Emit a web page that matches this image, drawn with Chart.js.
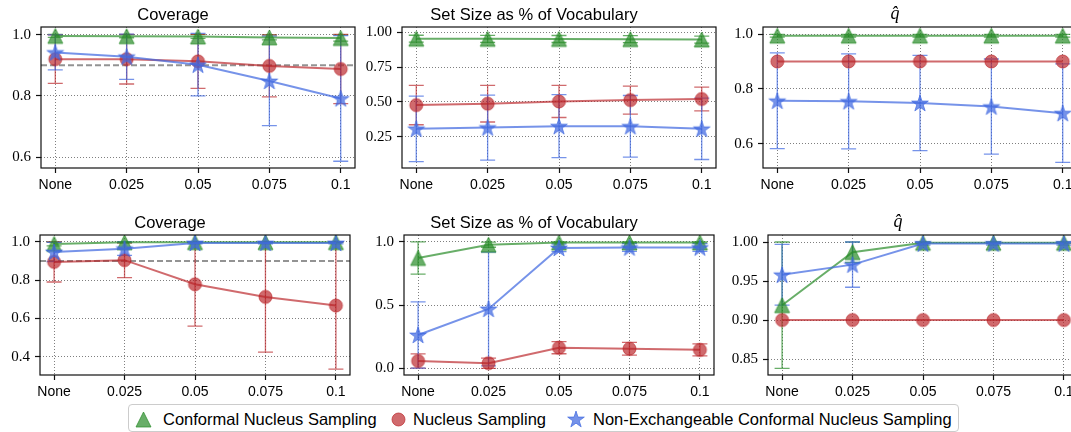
<!DOCTYPE html>
<html><head><meta charset="utf-8">
<script src="https://cdn.jsdelivr.net/npm/chart.js@4.4.1/dist/chart.umd.min.js"></script>
<style>
html,body{margin:0;padding:0;background:#fff;width:1071px;height:432px;overflow:hidden;position:relative;}
canvas.panel{position:absolute;}
#legend{position:absolute;left:128px;top:404px;width:829px;height:26px;border:1px solid #cccccc;border-radius:4px;background:#fff;font-family:"Liberation Sans",Arial,sans-serif;font-size:16.5px;color:#000;}
#legend .it{position:absolute;top:0;height:28px;line-height:28px;white-space:nowrap;}
#legend img{position:absolute;}
</style></head><body>
<div id="legend"></div>
<script>
// ---------- data ----------
const CATEGORIES = ['None', '0.025', '0.05', '0.075', '0.1'];
const SERIES_NAMES = ['Conformal Nucleus Sampling', 'Nucleus Sampling', 'Non-Exchangeable Conformal Nucleus Sampling'];
const PANEL_TITLES = ['Coverage', 'Set Size as % of Vocabulary', 'q\u0302'];
const TARGET_COVERAGE = 0.9;

// Row 1
const R1_COV_CONF = [0.996, 0.995, 0.994, 0.991, 0.989];
const R1_COV_CONF_ERR = [0.005, 0.005, 0.006, 0.008, 0.010];
const R1_COV_NUC = [0.920, 0.920, 0.913, 0.898, 0.888];
const R1_COV_NUC_ERR = [0.079, 0.081, 0.088, 0.101, 0.113];
const R1_COV_NEX = [0.942, 0.928, 0.902, 0.849, 0.792];
const R1_COV_NEX_ERR = [0.057, 0.074, 0.102, 0.146, 0.205];

const R1_SIZE_CONF = [0.953, 0.952, 0.951, 0.950, 0.947];
const R1_SIZE_CONF_ERR = [0.025, 0.025, 0.025, 0.025, 0.025];
const R1_SIZE_NUC = [0.477, 0.487, 0.503, 0.513, 0.521];
const R1_SIZE_NUC_ERR = [0.141, 0.131, 0.115, 0.100, 0.085];
const R1_SIZE_NEX = [0.307, 0.316, 0.326, 0.325, 0.307];
const R1_SIZE_NEX_ERR = [0.235, 0.233, 0.226, 0.221, 0.220];

const R1_Q_CONF = [0.994, 0.994, 0.994, 0.994, 0.994];
const R1_Q_CONF_ERR = [0.005, 0.005, 0.005, 0.005, 0.005];
const R1_Q_NUC = [0.900, 0.900, 0.900, 0.900, 0.900];
const R1_Q_NUC_ERR = [0, 0, 0, 0, 0];
const R1_Q_NEX = [0.757, 0.755, 0.749, 0.736, 0.712];
const R1_Q_NEX_ERR = [0.174, 0.173, 0.173, 0.173, 0.179];

// Row 2
const R2_COV_CONF = [0.990, 0.998, 0.999, 0.999, 0.999];
const R2_COV_CONF_ERR = [0.010, 0.003, 0.002, 0.002, 0.002];
const R2_COV_NUC = [0.896, 0.905, 0.779, 0.713, 0.668];
const R2_COV_NUC_ERR = [0.105, 0.091, 0.219, 0.288, 0.332];
const R2_COV_NEX = [0.948, 0.965, 0.995, 0.995, 0.995];
const R2_COV_NEX_ERR = [0.050, 0.035, 0.005, 0.005, 0.005];

const R2_SIZE_CONF = [0.873, 0.978, 0.995, 0.996, 0.996];
const R2_SIZE_CONF_ERR = [0.128, 0.020, 0.005, 0.004, 0.004];
const R2_SIZE_NUC = [0.058, 0.040, 0.163, 0.155, 0.146];
const R2_SIZE_NUC_ERR = [0.056, 0.040, 0.048, 0.050, 0.047];
const R2_SIZE_NEX = [0.264, 0.470, 0.953, 0.956, 0.956];
const R2_SIZE_NEX_ERR = [0.262, 0.450, 0.030, 0.030, 0.030];

const R2_Q_CONF = [0.919, 0.987, 0.999, 0.999, 0.999];
const R2_Q_CONF_ERR = [0.081, 0.013, 0.001, 0.001, 0.001];
const R2_Q_NUC = [0.900, 0.900, 0.900, 0.900, 0.900];
const R2_Q_NUC_ERR = [0, 0, 0, 0, 0];
const R2_Q_NEX = [0.958, 0.971, 0.998, 0.998, 0.998];
const R2_Q_NEX_ERR = [0.039, 0.029, 0.002, 0.002, 0.002];

// tick labels
const Y_TICKS_R1_COV = ['0.6', '0.8', '1.0'];
const Y_TICKS_R1_SIZE = ['0.25', '0.50', '0.75', '1.00'];
const Y_TICKS_R1_Q = ['0.6', '0.8', '1.0'];
const Y_TICKS_R2_COV = ['0.4', '0.6', '0.8', '1.0'];
const Y_TICKS_R2_SIZE = ['0.0', '0.5', '1.0'];
const Y_TICKS_R2_Q = ['0.85', '0.90', '0.95', '1.00'];

// ---------- style ----------
const COLORS = ['rgba(40,140,40,0.70)', 'rgba(185,35,40,0.68)', 'rgba(65,105,225,0.72)'];
const MARKERS = ['triangle', 'circle', 'star'];
const MARKER_SIZES = [15, 13, 17.5];
const SANS = '"Liberation Sans", Arial, sans-serif';
const SERIF = '"Liberation Serif", "Times New Roman", serif';
const PAD_L = 50, PAD_T = 27, PAD_B = 28, PAD_R = 20;

function makeMarker(kind, color, size) {
  const c = document.createElement('canvas');
  const s = Math.ceil(size + 4);
  c.width = s; c.height = s;
  const g = c.getContext('2d');
  const cx = s / 2, cy = s / 2, r = size / 2;
  g.beginPath();
  if (kind === 'triangle') {
    g.moveTo(cx, cy - r); g.lineTo(cx + r, cy + r); g.lineTo(cx - r, cy + r); g.closePath();
  } else if (kind === 'circle') {
    g.arc(cx, cy, r, 0, Math.PI * 2);
  } else {
    for (let k = 0; k < 10; k++) {
      const rr = k % 2 === 0 ? r : r * 0.381966;
      const a = -Math.PI / 2 + k * Math.PI / 5;
      const px = cx + rr * Math.cos(a), py = cy + rr * Math.sin(a) + r * 0.09;
      if (k === 0) g.moveTo(px, py); else g.lineTo(px, py);
    }
    g.closePath();
  }
  g.fillStyle = color; g.fill();
  g.lineWidth = 1; g.strokeStyle = color; g.stroke();
  return c;
}
const MARKER_IMGS = MARKERS.map((m, i) => makeMarker(m, COLORS[i], MARKER_SIZES[i]));

// ---------- plugins ----------
const errorBarPlugin = {
  id: 'errorBars',
  beforeDatasetsDraw(chart) {
    const ctx = chart.ctx, ys = chart.scales.y, a = chart.chartArea;
    ctx.save();
    ctx.beginPath(); ctx.rect(a.left, a.top, a.right - a.left, a.bottom - a.top); ctx.clip();
    const tgt = chart.options.plugins.errorBars.target;
    if (tgt != null) {
      const py = ys.getPixelForValue(tgt);
      ctx.strokeStyle = 'rgba(128,128,128,0.85)'; ctx.lineWidth = 2; ctx.setLineDash([6, 3]);
      ctx.beginPath(); ctx.moveTo(a.left, py); ctx.lineTo(a.right, py); ctx.stroke();
      ctx.setLineDash([]);
    }
    chart.data.datasets.forEach((ds, di) => {
      const meta = chart.getDatasetMeta(di);
      ctx.strokeStyle = ds.borderColor; ctx.lineWidth = 1.3;
      ds.data.forEach((p, j) => {
        const e = ds.errors[j];
        if (!e) return;
        const px = meta.data[j].x;
        const y1 = ys.getPixelForValue(p.y + e), y2 = ys.getPixelForValue(p.y - e);
        ctx.beginPath();
        ctx.moveTo(px, y1); ctx.lineTo(px, y2);
        ctx.moveTo(px - 7.5, y1); ctx.lineTo(px + 7.5, y1);
        ctx.moveTo(px - 7.5, y2); ctx.lineTo(px + 7.5, y2);
        ctx.stroke();
      });
    });
    ctx.restore();
  },
  afterDraw(chart) {
    const ctx = chart.ctx, a = chart.chartArea;
    ctx.save();
    ctx.strokeStyle = '#111'; ctx.lineWidth = 1.2;
    ctx.strokeRect(a.left, a.top, a.right - a.left, a.bottom - a.top);
    ctx.restore();
  }
};

// ---------- panels ----------
const PANELS = [
  {left: 41, top: 27, w: 314, h: 141, ymin: 0.565, ymax: 1.025, yt: Y_TICKS_R1_COV, title: 0, target: TARGET_COVERAGE,
   vals: [R1_COV_CONF, R1_COV_NUC, R1_COV_NEX], errs: [R1_COV_CONF_ERR, R1_COV_NUC_ERR, R1_COV_NEX_ERR]},
  {left: 402, top: 27, w: 314, h: 141, ymin: 0.026, ymax: 1.037, yt: Y_TICKS_R1_SIZE, title: 1, target: null,
   vals: [R1_SIZE_CONF, R1_SIZE_NUC, R1_SIZE_NEX], errs: [R1_SIZE_CONF_ERR, R1_SIZE_NUC_ERR, R1_SIZE_NEX_ERR]},
  {left: 763, top: 27, w: 314, h: 141, ymin: 0.5125, ymax: 1.0255, yt: Y_TICKS_R1_Q, title: 2, target: null,
   vals: [R1_Q_CONF, R1_Q_NUC, R1_Q_NEX], errs: [R1_Q_CONF_ERR, R1_Q_NUC_ERR, R1_Q_NEX_ERR]},
  {left: 40, top: 235, w: 310, h: 140, ymin: 0.305, ymax: 1.0365, yt: Y_TICKS_R2_COV, title: 0, target: TARGET_COVERAGE,
   vals: [R2_COV_CONF, R2_COV_NUC, R2_COV_NEX], errs: [R2_COV_CONF_ERR, R2_COV_NUC_ERR, R2_COV_NEX_ERR]},
  {left: 404, top: 235, w: 310, h: 140, ymin: -0.053, ymax: 1.055, yt: Y_TICKS_R2_SIZE, title: 1, target: null,
   vals: [R2_SIZE_CONF, R2_SIZE_NUC, R2_SIZE_NEX], errs: [R2_SIZE_CONF_ERR, R2_SIZE_NUC_ERR, R2_SIZE_NEX_ERR]},
  {left: 768, top: 235, w: 310, h: 140, ymin: 0.8295, ymax: 1.009, yt: Y_TICKS_R2_Q, title: 2, target: null,
   vals: [R2_Q_CONF, R2_Q_NUC, R2_Q_NEX], errs: [R2_Q_CONF_ERR, R2_Q_NUC_ERR, R2_Q_NEX_ERR]},
];

PANELS.forEach(p => {
  const cv = document.createElement('canvas');
  cv.className = 'panel';
  const W = p.w + PAD_L + PAD_R, H = p.h + PAD_T + PAD_B;
  cv.width = W; cv.height = H;
  cv.style.left = (p.left - PAD_L) + 'px';
  cv.style.top = (p.top - PAD_T) + 'px';
  cv.style.width = W + 'px'; cv.style.height = H + 'px';
  document.body.appendChild(cv);

  const datasets = SERIES_NAMES.map((name, si) => ({
    label: name,
    data: CATEGORIES.map((c, i) => ({x: i, y: p.vals[si][i]})),
    errors: p.errs[si],
    borderColor: COLORS[si],
    backgroundColor: COLORS[si],
    borderWidth: 2,
    pointStyle: MARKER_IMGS[si],
    pointRadius: 7, pointHoverRadius: 7,
    tension: 0,
    order: 3 - si
  }));
  const isQ = p.title === 2;
  new Chart(cv, {
    type: 'line',
    data: {datasets},
    plugins: [errorBarPlugin],
    options: {
      responsive: false, animation: false, devicePixelRatio: 1,
      events: [],
      layout: {padding: {left: 0, right: PAD_R, top: 0, bottom: 0}},
      plugins: {
        legend: {display: false}, tooltip: {enabled: false},
        errorBars: {target: p.target},
        title: {display: true, text: PANEL_TITLES[p.title], color: '#000',
          font: isQ ? {family: SERIF, size: 18, style: 'italic', weight: 'normal', lineHeight: 1.2}
                    : {family: SANS, size: 16.5, weight: 'normal', lineHeight: 1.2},
          padding: isQ ? {top: 3.3, bottom: 2.1} : {top: 5.3, bottom: 1.9}}
      },
      scales: {
        x: {
          type: 'linear', min: -0.2, max: 4.2,
          afterBuildTicks: s => { s.ticks = CATEGORIES.map((c, i) => ({value: i})); },
          afterFit: s => { s.height = PAD_B; },
          ticks: {callback: (v, i) => CATEGORIES[i], font: {family: SANS, size: 14}, color: '#000', padding: 4, maxRotation: 0, autoSkip: false},
          grid: {color: 'rgba(0,0,0,0.5)', lineWidth: 1, tickLength: 5, tickColor: '#111', tickWidth: 1.2, tickBorderDash: []},
          border: {display: false, dash: [1, 2]}
        },
        y: {
          type: 'linear', min: p.ymin, max: p.ymax,
          afterBuildTicks: s => { s.ticks = p.yt.map(t => ({value: parseFloat(t)})); },
          afterFit: s => { s.width = PAD_L; },
          ticks: {callback: (v, i) => p.yt[i], font: {family: SERIF, size: 15}, color: '#000', padding: 5, autoSkip: false},
          grid: {color: 'rgba(0,0,0,0.5)', lineWidth: 1, tickLength: 5, tickColor: '#111', tickWidth: 1.2, tickBorderDash: []},
          border: {display: false, dash: [1, 2]}
        }
      }
    }
  });
});

// ---------- legend ----------
const LEGEND_MARKER_X = [14, 269, 447];
const LEGEND_TEXT_X = [34, 284, 464];
const leg = document.getElementById('legend');
SERIES_NAMES.forEach((name, i) => {
  const img = document.createElement('img');
  img.src = MARKER_IMGS[i].toDataURL();
  img.style.left = (LEGEND_MARKER_X[i] - MARKER_IMGS[i].width / 2) + 'px';
  img.style.top = (14 - MARKER_IMGS[i].height / 2) + 'px';
  leg.appendChild(img);
  const sp = document.createElement('span');
  sp.className = 'it';
  sp.style.left = LEGEND_TEXT_X[i] + 'px';
  sp.textContent = name;
  leg.appendChild(sp);
});
</script>
</body></html>
